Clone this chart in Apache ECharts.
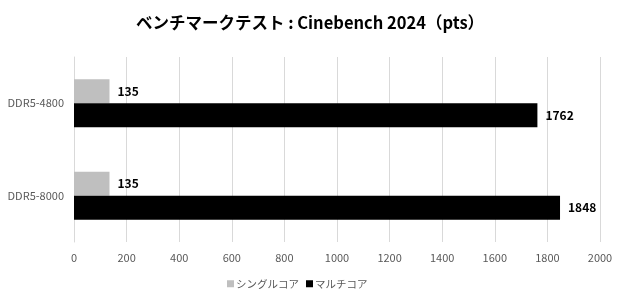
<!DOCTYPE html>
<html>
<head>
<meta charset="utf-8">
<script src="https://cdn.jsdelivr.net/npm/echarts@6/dist/echarts.min.js"></script>
<style>
  html, body { margin: 0; padding: 0; background: #fff; }
  #chart { width: 620px; height: 300px; }
</style>
</head>
<body>
<div id="chart"></div>
<script>
// データ
const categories = ['DDR5-4800', 'DDR5-8000'];
const singleCore = [135, 135];
const multiCore = [1762, 1848];
const seriesNames = ['シングルコア', 'マルチコア'];

const FONT = '"Noto Sans CJK JP", "Noto Sans", sans-serif';

const chart = echarts.init(document.getElementById('chart'));

const option = {
    animation: false,
    textStyle: { fontFamily: FONT },
    title: {
        text: 'ベンチマークテスト : Cinebench 2024（pts）',
        left: 'center',
        top: 9,
        textStyle: { fontSize: 16.5, fontWeight: 'bold', color: '#000', fontFamily: FONT }
    },
    legend: {
        data: seriesNames,
        bottom: 6,
        left: 222,
        itemWidth: 7,
        itemHeight: 7,
        itemGap: 7,
        icon: 'rect',
        textStyle: { fontSize: 10.5, color: '#595959', fontFamily: FONT, padding: [0, 0, 0, -3] }
    },
    grid: {
        left: 74,
        right: 20,
        top: 57,
        bottom: 58
    },
    xAxis: {
        type: 'value',
        min: 0,
        max: 2000,
        interval: 200,
        axisLine: { show: false },
        axisTick: { show: false },
        axisLabel: {
            color: '#595959',
            fontSize: 11,
            margin: 10,
            fontFamily: FONT,
            formatter: (v) => String(v)
        },
        splitLine: { lineStyle: { color: '#d9d9d9', width: 1 } }
    },
    yAxis: {
        type: 'category',
        data: categories,
        inverse: true,
        axisLine: { show: true, lineStyle: { color: '#d9d9d9' } },
        axisTick: { show: false },
        axisLabel: { color: '#595959', fontSize: 11, margin: 10, fontFamily: FONT }
    },
    series: [
        {
            name: seriesNames[0],
            type: 'bar',
            data: singleCore,
            barWidth: 24,
            barGap: '0%',
            itemStyle: { color: '#bfbfbf' },
            label: {
                show: true,
                position: 'right',
                distance: 8,
                color: '#000',
                fontWeight: 'bold',
                fontSize: 12,
                fontFamily: FONT
            }
        },
        {
            name: seriesNames[1],
            type: 'bar',
            data: multiCore,
            barWidth: 24,
            barGap: '0%',
            itemStyle: { color: '#000000' },
            label: {
                show: true,
                position: 'right',
                distance: 8,
                color: '#000',
                fontWeight: 'bold',
                fontSize: 12,
                fontFamily: FONT
            }
        }
    ]
};

chart.setOption(option);
</script>
</body>
</html>
